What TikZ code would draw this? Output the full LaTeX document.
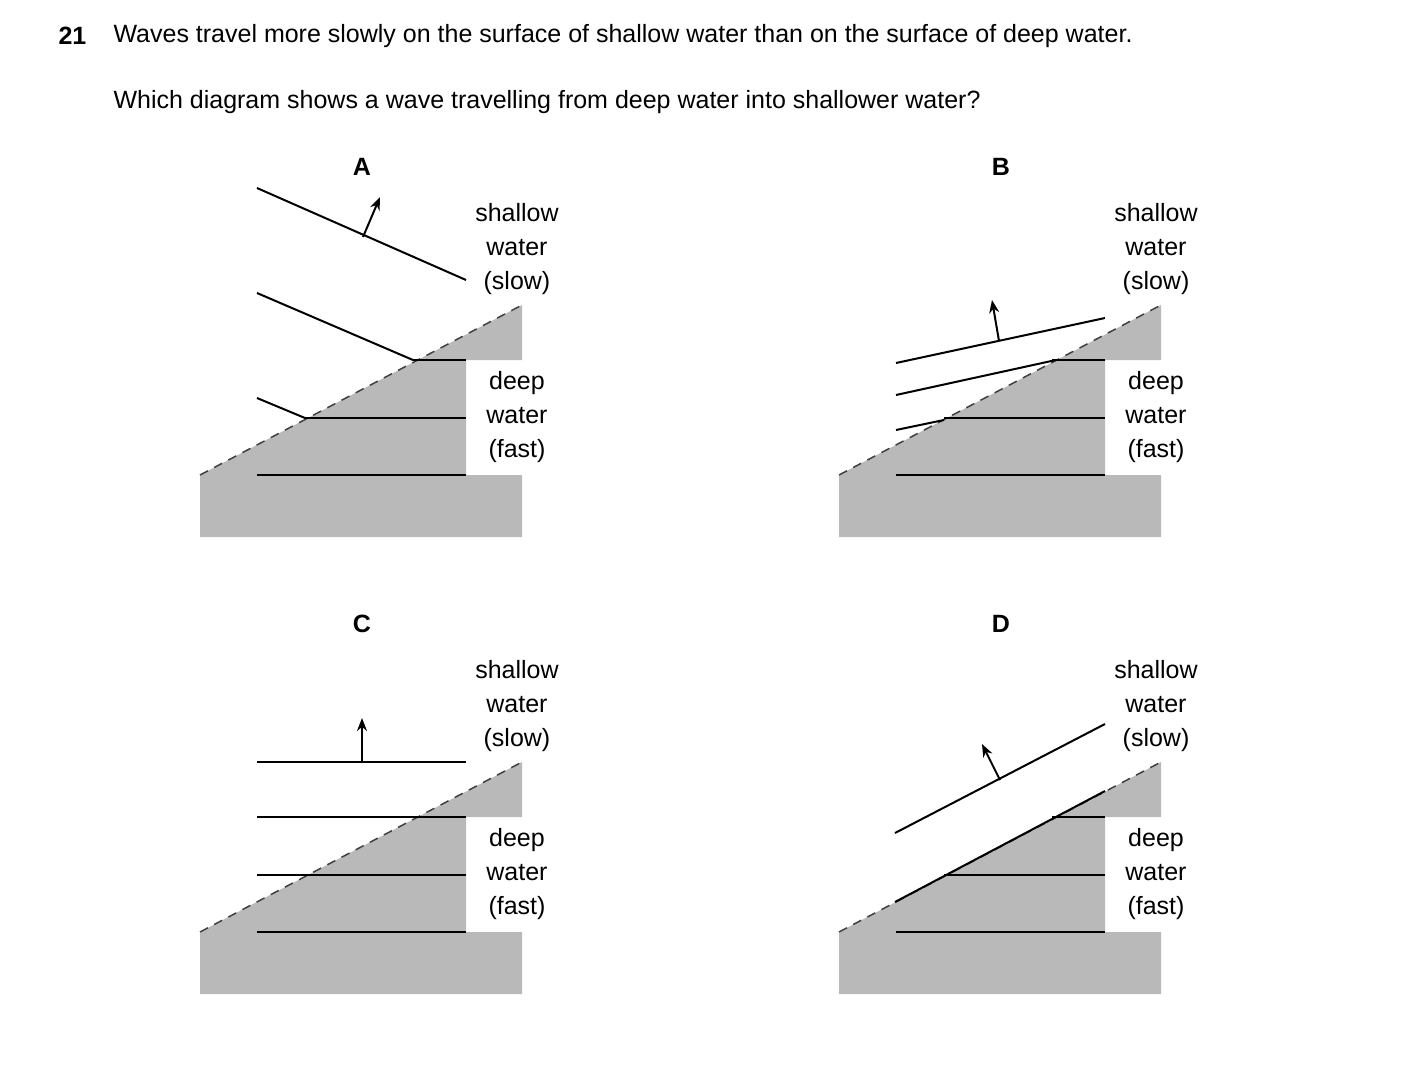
\documentclass[tikz,border=0pt]{standalone}
\usepackage{fontspec}
\setmainfont{Liberation Sans}
\usetikzlibrary{arrows.meta}
\begin{document}
\begin{tikzpicture}[x=1pt,y=-1pt,
  txt/.style={font=\fontsize{25}{34}\selectfont},
  lbl/.style={font=\fontsize{25}{34}\selectfont,align=center,inner sep=0pt},
  wave/.style={line width=2pt,black},
  slope/.style={line width=1.5pt,black!75,dash pattern=on 9pt off 7pt},
  arr/.style={line width=2pt,-{Stealth[length=13pt,width=10pt]}},
  ground/.style={fill=black!25!white!100,fill=gray!55}]
\useasboundingbox (0,0) rectangle (1403,1087);
\node[txt,anchor=west,font=\fontsize{25}{34}\selectfont\bfseries] (n21) at (55,36) {21};
\node[txt,anchor=west] (t1) at (110,36) {Waves travel more slowly on the surface of shallow water than on the surface of deep water.};
\node[txt,anchor=west] (t2) at (110,102) {Which diagram shows a wave travelling from deep water into shallower water?};
\newcommand{\panel}[1]{%
  \fill[gray!55] (200,537) -- (522,537) -- (522,475) -- (466,475) -- (466,360) -- (522,360) -- (522,305) -- (200,475) -- cycle;
  \draw[slope] (200,475) -- (522,305);
  \node[txt,font=\fontsize{25}{34}\selectfont\bfseries] (L#1) at (362,167) {#1};
  \node[lbl] (s#1) at (517,249) {shallow\\water\\(slow)};
  \node[lbl] (d#1) at (517,417) {deep\\water\\(fast)};
}
\begin{scope}
\panel{A}
\draw[wave] (257,475) -- (466,475);
\draw[wave] (305,418) -- (466,418);
\draw[wave] (413,360) -- (466,360);
\draw[wave] (257,398) -- (305,418);
\draw[wave] (257,293) -- (413,360);
\draw[wave] (257,188) -- (466,280);
\draw[arr] (363,237) -- (380,197);
\end{scope}
\begin{scope}[shift={(639,0)}]
\panel{B}
\draw[wave] (257,475) -- (466,475);
\draw[wave] (305,418) -- (466,418);
\draw[wave] (413,360) -- (466,360);
\draw[wave] (257,430) -- (305,420);
\draw[wave] (257,395) -- (417,360);
\draw[wave] (257,363) -- (466,318);
\draw[arr] (360,341) -- (353,300);
\end{scope}
\begin{scope}[shift={(0,457)}]
\panel{C}
\draw[wave] (257,475) -- (466,475);
\draw[wave] (257,418) -- (466,418);
\draw[wave] (257,360) -- (466,360);
\draw[wave] (257,305) -- (466,305);
\draw[arr] (362,305) -- (362,261);
\end{scope}
\begin{scope}[shift={(639,457)}]
\panel{D}
\draw[wave] (257,475) -- (466,475);
\draw[wave] (305,418) -- (466,418);
\draw[wave] (413,360) -- (466,360);
\draw[wave] (256,445) -- (466,334);
\draw[wave] (256,376) -- (466,267);
\draw[arr] (361,323) -- (343,287);
\end{scope}
\end{tikzpicture}
\end{document}
